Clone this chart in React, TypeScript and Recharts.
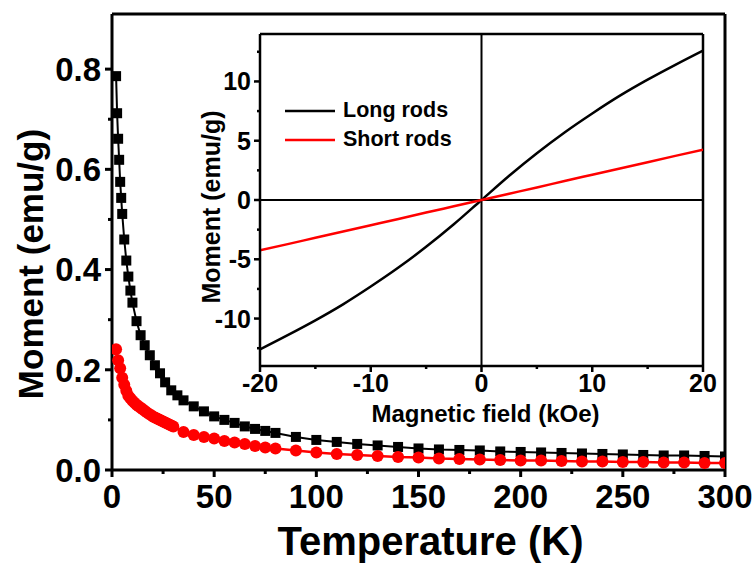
import React from 'react'
import { LineChart, Line, XAxis, YAxis, ReferenceLine, Legend } from 'recharts'

const FONT = '"Liberation Sans", Arial, Helvetica, sans-serif'

// M(T) curves, long rods (squares) and short rods (circles)
const longTemp = [2, 2.5, 3, 3.5, 4, 4.5, 5, 6, 7, 8, 9, 10, 12, 14, 16, 18.5, 21, 23.5, 26, 29, 32, 35, 40, 45, 50, 55, 60, 65, 70, 75, 80, 90, 100, 110, 120, 130, 140, 150, 160, 170, 180, 190, 200, 210, 220, 230, 240, 250, 260, 270, 280, 290, 300]
const longMoment = [0.786, 0.712, 0.661, 0.619, 0.575, 0.543, 0.511, 0.46, 0.418, 0.386, 0.358, 0.334, 0.297, 0.269, 0.249, 0.229, 0.209, 0.193, 0.175, 0.159, 0.149, 0.139, 0.127, 0.117, 0.107, 0.1, 0.094, 0.087, 0.082, 0.078, 0.074, 0.066, 0.06, 0.056, 0.052, 0.049, 0.046, 0.043, 0.041, 0.04, 0.039, 0.037, 0.036, 0.035, 0.034, 0.033, 0.032, 0.031, 0.03, 0.029, 0.029, 0.028, 0.027]

const shortTemp = [2, 3, 4, 5, 6, 7, 8, 9, 10, 11, 12, 13, 14, 15, 16, 17, 18, 19, 20, 21, 22, 23, 24, 25, 26, 27, 28, 29, 30, 35, 40, 45, 50, 55, 60, 65, 70, 75, 80, 90, 100, 110, 120, 130, 140, 150, 160, 170, 180, 190, 200, 210, 220, 230, 240, 250, 260, 270, 280, 290, 300]
const shortMoment = [0.241, 0.219, 0.203, 0.184, 0.17, 0.158, 0.148, 0.143, 0.138, 0.134, 0.13, 0.127, 0.124, 0.121, 0.118, 0.115, 0.112, 0.11, 0.107, 0.105, 0.103, 0.101, 0.099, 0.097, 0.095, 0.093, 0.091, 0.089, 0.087, 0.076, 0.07, 0.066, 0.063, 0.058, 0.055, 0.052, 0.048, 0.045, 0.043, 0.039, 0.035, 0.032, 0.03, 0.028, 0.026, 0.025, 0.023, 0.022, 0.021, 0.02, 0.019, 0.019, 0.018, 0.017, 0.017, 0.016, 0.016, 0.015, 0.015, 0.014, 0.014]

// M(H) loops at room temperature (inset)
const field = [-20, -17.5, -15, -12.5, -10, -7.5, -5, -2.5, 0, 2.5, 5, 7.5, 10, 12.5, 15, 17.5, 20]
const longLoop = [-12.6, -11.4, -10.15, -8.8, -7.3, -5.7, -3.95, -2.05, 0, 2.05, 3.95, 5.7, 7.3, 8.8, 10.15, 11.4, 12.6]
const shortLoop = [-4.25, -3.72, -3.19, -2.66, -2.13, -1.6, -1.06, -0.53, 0, 0.53, 1.06, 1.6, 2.13, 2.66, 3.19, 3.72, 4.25]

const tempTicks = [0, 25, 50, 75, 100, 125, 150, 175, 200, 225, 250, 275, 300]
const momentTicks = [0, 0.1, 0.2, 0.3, 0.4, 0.5, 0.6, 0.7, 0.8]
const fieldTicks = [-20, -15, -10, -5, 0, 5, 10, 15, 20]
const loopTicks = [-12.5, -10, -7.5, -5, -2.5, 0, 2.5, 5, 7.5, 10, 12.5]

const TEMP_MAX = 300
const MOMENT_MAX = 0.91
const FIELD_MAX = 20
const LOOP_MAX = 14

const longData = longTemp.map((t, i) => ({ t, m: longMoment[i] }))
const shortData = shortTemp.map((t, i) => ({ t, m: shortMoment[i] }))
const loopData = field.map((h, i) => ({ h, long: longLoop[i], short: shortLoop[i] }))

type TickOpts = {
  side: 'bottom' | 'left'
  isMajor: (v: number) => boolean
  fmt: (v: number) => string
  major: number
  minor: number
  width: number
  fontSize: number
  gap: number
}

// one axis carries both major and minor ticks; only majors get a label
function makeTick(o: TickOpts) {
  return function Tick(props: any) {
    const { x, y, payload } = props
    const v = payload.value
    const major = o.isMajor(v)
    const len = major ? o.major : o.minor
    if (o.side === 'bottom') {
      return (
        <g>
          <line x1={x} x2={x} y1={y} y2={y + len} stroke="#000" strokeWidth={o.width} />
          {major && (
            <text x={x} y={y + o.gap} textAnchor="middle" fontFamily={FONT} fontWeight={700} fontSize={o.fontSize} fill="#000">
              {o.fmt(v)}
            </text>
          )}
        </g>
      )
    }
    return (
      <g>
        <line x1={x} x2={x - len} y1={y} y2={y} stroke="#000" strokeWidth={o.width} />
        {major && (
          <text x={x - o.gap} y={y + o.fontSize * 0.36} textAnchor="end" fontFamily={FONT} fontWeight={700} fontSize={o.fontSize} fill="#000">
            {o.fmt(v)}
          </text>
        )}
      </g>
    )
  }
}

const TempTick = makeTick({ side: 'bottom', isMajor: (v) => v % 50 === 0, fmt: String, major: 7, minor: 4, width: 3, fontSize: 33, gap: 38 })
const MomentTick = makeTick({ side: 'left', isMajor: (v) => Math.round(v * 10) % 2 === 0, fmt: (v) => v.toFixed(1), major: 7, minor: 4, width: 3, fontSize: 33, gap: 11 })
const FieldTick = makeTick({ side: 'bottom', isMajor: (v) => v % 10 === 0, fmt: String, major: 6, minor: 3, width: 2.5, fontSize: 25, gap: 26 })
const LoopTick = makeTick({ side: 'left', isMajor: (v) => v % 5 === 0, fmt: String, major: 6, minor: 3, width: 2.5, fontSize: 25, gap: 9 })

function AxisTitle(props: any) {
  const { viewBox, text, size, vertical, dx = 0, dy = 0 } = props
  const common = { fontFamily: FONT, fontWeight: 700, fontSize: size, fill: '#000', textAnchor: 'middle' as const }
  if (vertical) {
    const x = viewBox.x + dx
    const y = viewBox.y + viewBox.height / 2 + dy
    return (
      <text {...common} x={x} y={y} dominantBaseline="central" transform={`rotate(-90, ${x}, ${y})`}>
        {text}
      </text>
    )
  }
  return (
    <text {...common} x={viewBox.x + viewBox.width / 2 + dx} y={viewBox.y + dy}>
      {text}
    </text>
  )
}

const Square = (p: any) => <rect key={`sq-${p.index}`} x={p.cx - 5} y={p.cy - 5} width={10} height={10} fill="#000" />
const Circle = (p: any) => <circle key={`ci-${p.index}`} cx={p.cx} cy={p.cy} r={6} fill="#ff0000" />

function LoopLegend({ payload }: any) {
  return (
    <div style={{ fontFamily: FONT, fontWeight: 700, fontSize: 21.5, color: '#000' }}>
      {(payload || []).map((e: any) => (
        <div key={e.value} style={{ display: 'flex', alignItems: 'center', height: 29 }}>
          <svg width={50} height={6} style={{ marginRight: 8 }}>
            <line x1={0} x2={50} y1={3} y2={3} stroke={e.color} strokeWidth={2.5} />
          </svg>
          <span>{e.value}</span>
        </div>
      ))}
    </div>
  )
}

const axisLine = { stroke: '#000', strokeWidth: 3 }
const insetLine = { stroke: '#000', strokeWidth: 2.5 }

export default function App() {
  return (
    <div style={{ position: 'absolute', left: 0, top: 0, width: 756, height: 565, background: '#fff' }}>
      <LineChart width={756} height={565} margin={{ top: 14, right: 31, bottom: 0, left: 0 }}>
        <XAxis
          type="number"
          dataKey="t"
          domain={[0, TEMP_MAX]}
          ticks={tempTicks}
          interval={0}
          height={95}
          tickSize={0}
          tickMargin={0}
          tickLine={false}
          axisLine={axisLine}
          tick={TempTick}
          allowDataOverflow
          label={<AxisTitle text="Temperature (K)" size={40} dx={12} dy={85} />}
        />
        <YAxis
          type="number"
          dataKey="m"
          domain={[0, MOMENT_MAX]}
          ticks={momentTicks}
          interval={0}
          width={112}
          tickSize={0}
          tickMargin={0}
          tickLine={false}
          axisLine={axisLine}
          tick={MomentTick}
          allowDataOverflow
          label={<AxisTitle text="Moment (emu/g)" size={35} vertical dx={30} dy={22} />}
        />
        {/* closing frame: top and right edges */}
        <ReferenceLine y={MOMENT_MAX} stroke="#000" strokeWidth={3} />
        <ReferenceLine x={TEMP_MAX} stroke="#000" strokeWidth={3} />
        <Line data={longData} dataKey="m" stroke="#000" strokeWidth={2} dot={Square} activeDot={false} isAnimationActive={false} />
        <Line data={shortData} dataKey="m" stroke="#ff0000" strokeWidth={2.5} dot={Circle} activeDot={false} isAnimationActive={false} />
      </LineChart>

      <div style={{ position: 'absolute', left: 190, top: 20 }}>
        <LineChart width={530} height={420} data={loopData} margin={{ top: 14, right: 17, bottom: 0, left: 0 }}>
          <XAxis
            type="number"
            dataKey="h"
            domain={[-FIELD_MAX, FIELD_MAX]}
            ticks={fieldTicks}
            interval={0}
            height={74}
            tickSize={0}
            tickMargin={0}
            tickLine={false}
            axisLine={insetLine}
            tick={FieldTick}
            allowDataOverflow
            label={<AxisTitle text="Magnetic field (kOe)" size={24} dx={4} dy={56} />}
          />
          <YAxis
            type="number"
            domain={[-LOOP_MAX, LOOP_MAX]}
            ticks={loopTicks}
            interval={0}
            width={70}
            tickSize={0}
            tickMargin={0}
            tickLine={false}
            axisLine={insetLine}
            tick={LoopTick}
            allowDataOverflow
            label={<AxisTitle text="Moment (emu/g)" size={25} vertical dx={21} dy={7} />}
          />
          <ReferenceLine y={LOOP_MAX} stroke="#000" strokeWidth={2.5} />
          <ReferenceLine x={FIELD_MAX} stroke="#000" strokeWidth={2.5} />
          <ReferenceLine x={0} stroke="#000" strokeWidth={2} />
          <ReferenceLine y={0} stroke="#000" strokeWidth={2} />
          <Line type="monotone" dataKey="long" name="Long rods" stroke="#000" strokeWidth={2.5} dot={false} activeDot={false} isAnimationActive={false} />
          <Line type="monotone" dataKey="short" name="Short rods" stroke="#ff0000" strokeWidth={2.5} dot={false} activeDot={false} isAnimationActive={false} />
          <Legend layout="vertical" align="center" verticalAlign="middle" content={LoopLegend} wrapperStyle={{ left: 95, top: 76, width: 'auto' }} />
        </LineChart>
      </div>
    </div>
  )
}
